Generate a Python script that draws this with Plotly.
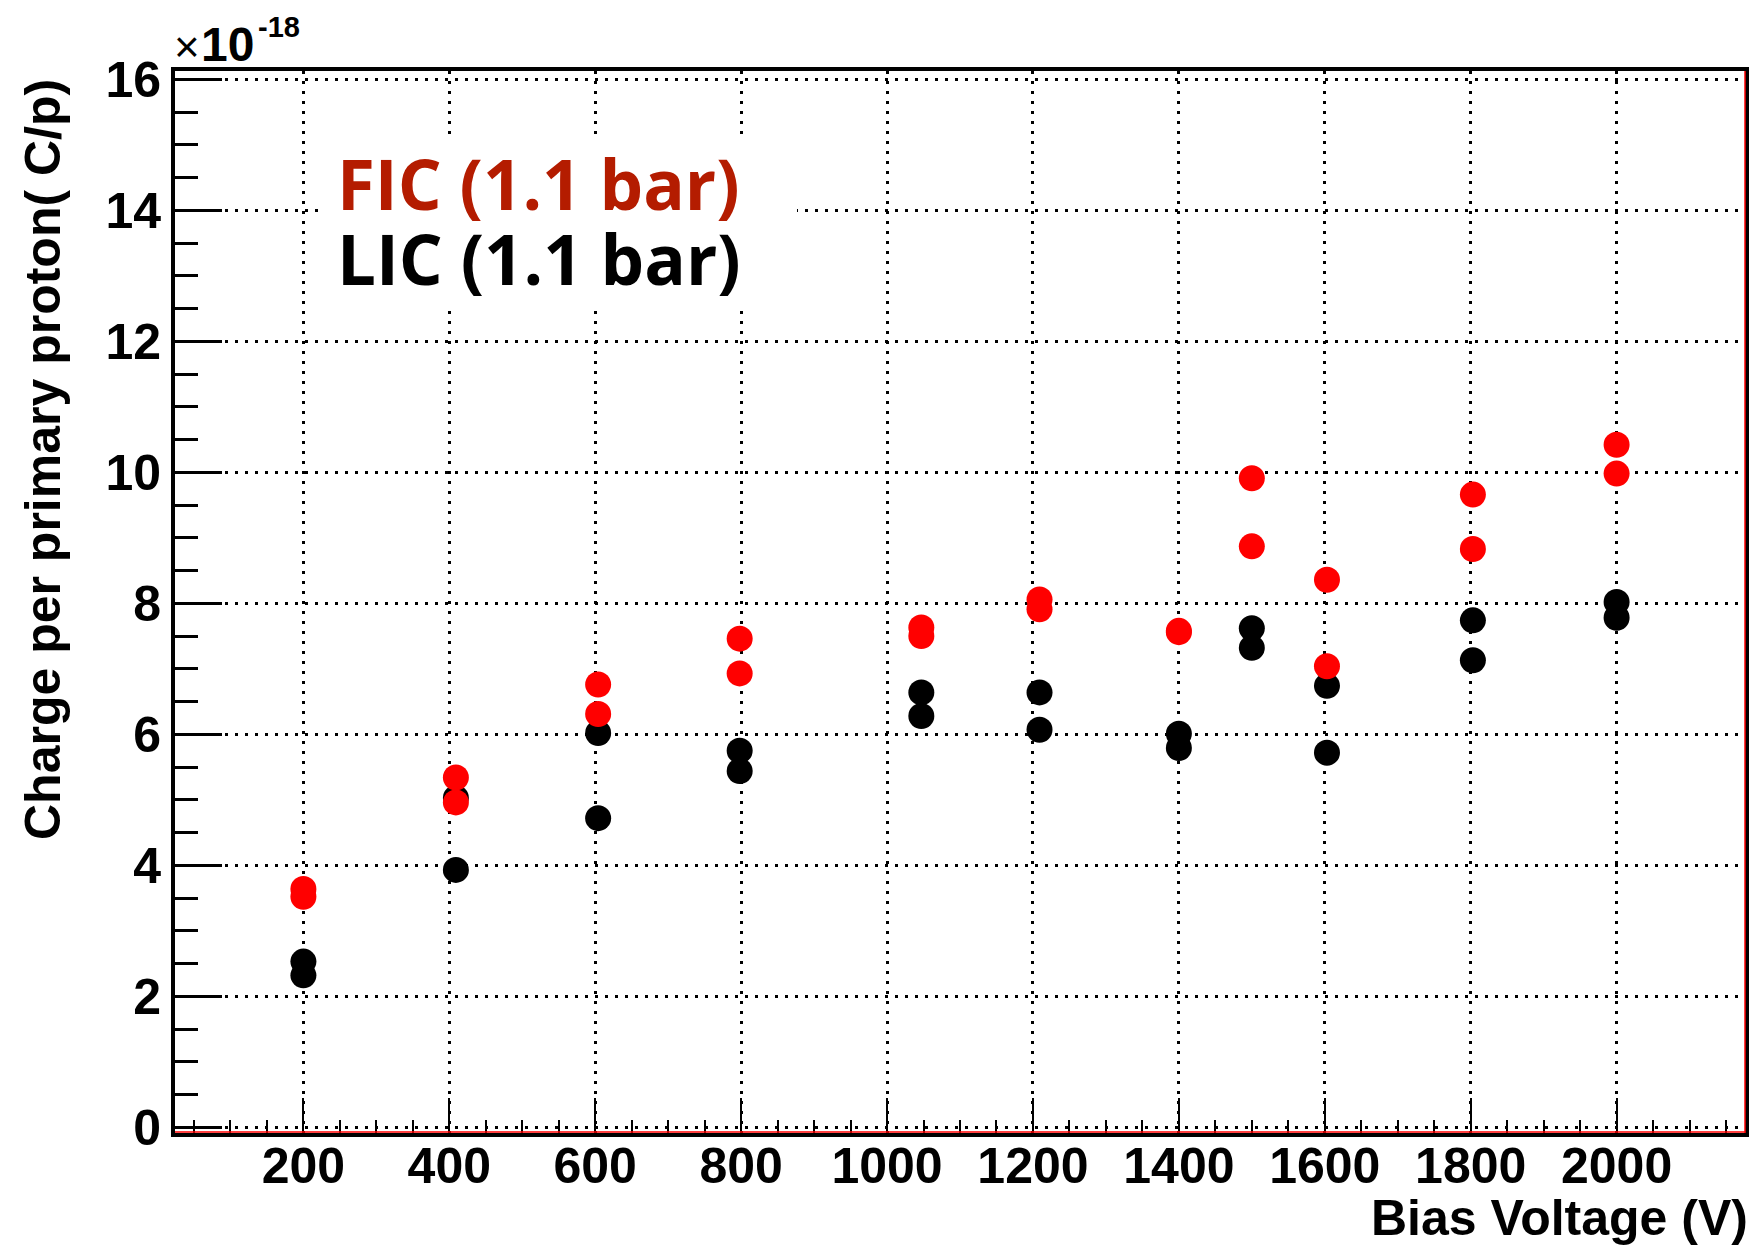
import plotly.graph_objects as go

# Values (charge in units of 1e-18 C per proton)
fic_voltage = [200, 200, 409, 409, 604, 604, 798, 798, 1047, 1047, 1209, 1209,
               1400, 1400, 1500, 1500, 1603, 1603, 1803, 1803, 2000, 2000]
fic_charge = [3.64, 3.52, 5.34, 4.96, 6.76, 6.31, 7.46, 6.93, 7.63, 7.50, 8.06, 7.91,
              7.58, 7.56, 9.91, 8.87, 8.36, 7.04, 9.66, 8.83, 10.42, 9.98]

lic_voltage = [200, 200, 409, 409, 604, 604, 798, 798, 1047, 1047, 1209, 1209,
               1400, 1400, 1500, 1500, 1603, 1603, 1803, 1803, 2000, 2000]
lic_charge = [2.53, 2.32, 5.03, 3.93, 6.02, 4.72, 5.75, 5.44, 6.64, 6.28, 6.64, 6.07,
              6.01, 5.79, 7.62, 7.32, 6.74, 5.72, 7.74, 7.13, 8.02, 7.78]

x_ticks = [200, 400, 600, 800, 1000, 1200, 1400, 1600, 1800, 2000]
y_ticks = [0, 2, 4, 6, 8, 10, 12, 14, 16]

legend_labels = ["FIC (1.1 bar)", "LIC (1.1 bar)"]
x_title = "Bias Voltage (V)"
y_title = "Charge per primary proton( C/p)"

FONT = "Liberation Sans"
L, R, T, B = 175, 15, 71, 113
W, H = 1760, 1246
PW, PH = W - L - R, H - T - B


def px(xpix):
    return (xpix - L) / PW


def py(ypix):
    return (H - B - ypix) / PH


fig = go.Figure()
fig.add_trace(go.Scatter(x=lic_voltage, y=lic_charge, mode="markers",
                         marker=dict(color="#000000", size=26, line=dict(width=0)),
                         name=legend_labels[1], showlegend=False))
fig.add_trace(go.Scatter(x=fic_voltage, y=fic_charge, mode="markers",
                         marker=dict(color="#ff0000", size=26, line=dict(width=0)),
                         name=legend_labels[0], showlegend=False))

grid_dash = "3px,7px"
fig.update_xaxes(
    range=[24, 2176], tickvals=x_ticks, ticktext=[str(v) for v in x_ticks],
    showgrid=True, gridcolor="black", gridwidth=2.5, griddash=grid_dash,
    zeroline=False, showline=True, linecolor="black", linewidth=4, mirror=True,
    ticks="inside", ticklen=35, tickwidth=2, tickcolor="black",
    ticklabelstandoff=-14,
    minor=dict(dtick=50, tick0=0, ticks="inside", ticklen=13, tickwidth=2,
               tickcolor="black", showgrid=False),
    tickfont=dict(family=FONT, size=50, color="black", weight="bold"),
)
fig.update_yaxes(
    range=[-0.087, 16.127], tickvals=y_ticks, ticktext=[str(v) for v in y_ticks],
    showgrid=True, gridcolor="black", gridwidth=2.5, griddash=grid_dash,
    zeroline=False, showline=True, linecolor="black", linewidth=4, mirror=True,
    ticks="inside", ticklen=47, tickwidth=3, tickcolor="black",
    minor=dict(dtick=0.5, tick0=0, ticks="inside", ticklen=23, tickwidth=3,
               tickcolor="black", showgrid=False),
    tickfont=dict(family=FONT, size=50, color="black", weight="bold"),
)

shapes = [
    # white box behind the text legend (no data points in this region)
    dict(type="rect", xref="paper", yref="paper", x0=px(320), x1=px(797),
         y0=py(308), y1=py(135), fillcolor="white", line=dict(width=0), layer="above"),
    # thin red frame lines at bottom and right
    dict(type="line", xref="paper", yref="paper", x0=0, x1=1, y0=py(1132), y1=py(1132),
         line=dict(color="#ff0000", width=1.5), layer="above"),
    dict(type="line", xref="paper", yref="paper", x0=px(1745), x1=px(1745), y0=0, y1=1,
         line=dict(color="#ff0000", width=1.5), layer="above"),
]

annotations = [
    dict(text=legend_labels[0], xref="paper", yref="paper", x=px(335), y=py(183),
         xanchor="left", yanchor="middle", showarrow=False,
         font=dict(family="Open Sans", size=69, color="#b41c00", weight="bold")),
    dict(text=legend_labels[1], xref="paper", yref="paper", x=px(335), y=py(258),
         xanchor="left", yanchor="middle", showarrow=False,
         font=dict(family="Open Sans", size=69, color="#000000", weight="bold")),
    dict(text=x_title, xref="paper", yref="paper", x=px(1750), y=py(1218),
         xanchor="right", yanchor="middle", showarrow=False,
         font=dict(family=FONT, size=50, color="black", weight="bold")),
    dict(text=y_title, xref="paper", yref="paper", x=px(43), y=py(460),
         xanchor="center", yanchor="middle", showarrow=False, textangle=-90,
         font=dict(family=FONT, size=50, color="black", weight="bold")),
    dict(text="×", xref="paper", yref="paper", x=px(172), y=py(47),
         xanchor="left", yanchor="middle", showarrow=False,
         font=dict(family=FONT, size=44, color="black")),
    dict(text="10", xref="paper", yref="paper", x=px(199), y=py(45),
         xanchor="left", yanchor="middle", showarrow=False,
         font=dict(family=FONT, size=48, color="black", weight="bold")),
    dict(text="-18", xref="paper", yref="paper", x=px(256), y=py(27),
         xanchor="left", yanchor="middle", showarrow=False,
         font=dict(family=FONT, size=29, color="black", weight="bold")),
]

fig.update_layout(
    width=W, height=H,
    margin=dict(l=L, r=R, t=T, b=B, pad=0),
    paper_bgcolor="white", plot_bgcolor="white",
    shapes=shapes, annotations=annotations, showlegend=False,
)

fig.write_html("out.html")
